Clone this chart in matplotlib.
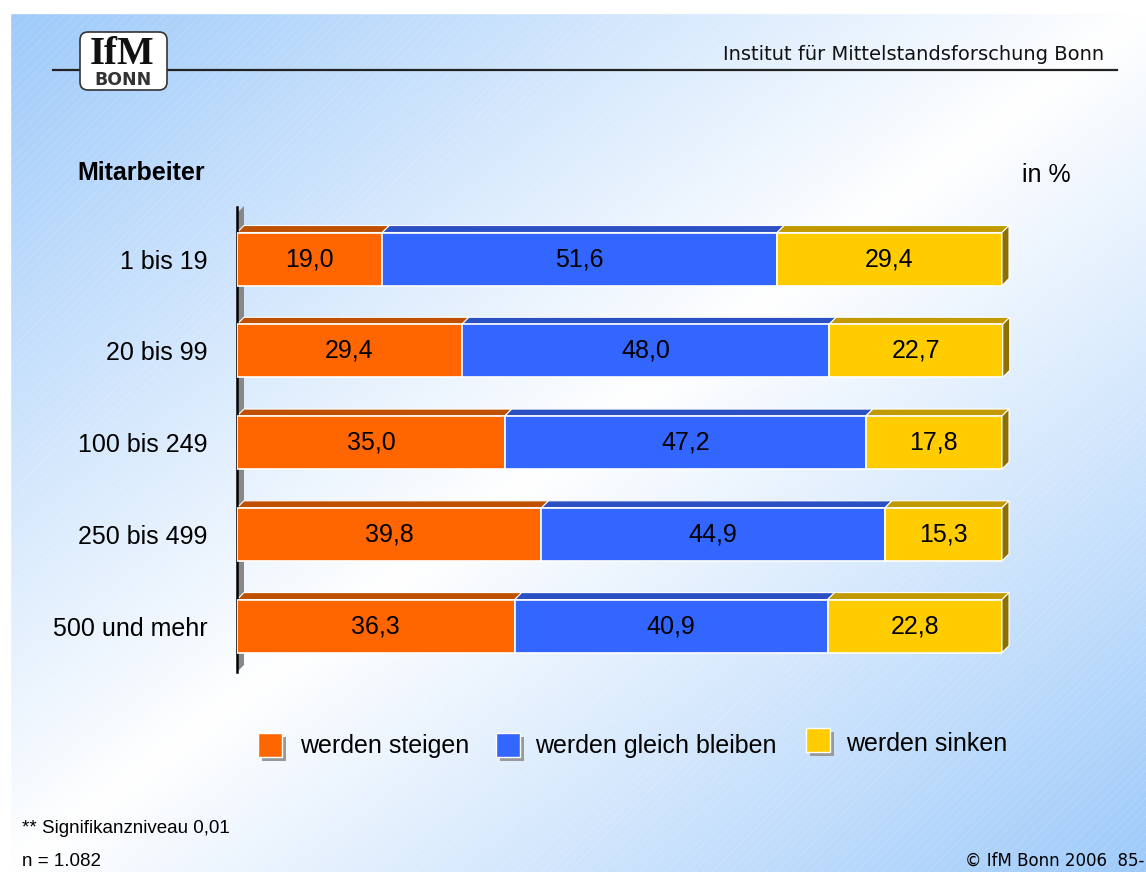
import numpy as np
import matplotlib

matplotlib.use("Agg")  # headless
import matplotlib.pyplot as plt
from matplotlib.patches import Polygon, Rectangle, FancyBboxPatch

categories = ["1 bis 19", "20 bis 99", "100 bis 249", "250 bis 499", "500 und mehr"]
steigen = [19.0, 29.4, 35.0, 39.8, 36.3]
gleich = [51.6, 48.0, 47.2, 44.9, 40.9]
sinken = [29.4, 22.7, 17.8, 15.3, 22.8]
series_names = ["werden steigen", "werden gleich bleiben", "werden sinken"]

W, H = 1146, 872
FRONT = ["#FF6600", "#3366FF", "#FFCC00"]
TOP = ["#BE5000", "#2A50C4", "#C09A00"]
SIDE = "#8C7000"
SANS = "Liberation Sans"
TAHOMA = "DejaVu Sans"

fig = plt.figure(figsize=(W / 100, H / 100), dpi=100)
fig.patch.set_facecolor("white")

# background in pixel coordinates
bg = fig.add_axes([0, 0, 1, 1])
bg.set_xlim(0, W)
bg.set_ylim(H, 0)
bg.axis("off")

u = np.linspace(0, 1, 300)
v = np.linspace(0, 1, 240)
U, V = np.meshgrid(u, v)
t = np.abs(U + V - 1)
blue = np.array([158, 202, 250]) / 255.0
img = 1 - (1 - blue)[None, None, :] * t[:, :, None]
bg.imshow(img, extent=[10, W, H, 13], aspect="auto", zorder=0)
# faint diagonal texture
for k in range(-H, W + H, 9):
    bg.plot([k, k + H], [H, 0], color="white", lw=0.5, alpha=0.18, zorder=1)
bg.add_patch(Rectangle((0, 0), W, 13, color="white", zorder=2))
bg.add_patch(Rectangle((0, 0), 10, H, color="white", zorder=2))

# header with logo
bg.plot([53, 1117], [70, 70], color="#222222", lw=1.6, zorder=3)
bg.add_patch(FancyBboxPatch((80, 32), 87, 58, boxstyle="round,pad=0,rounding_size=8",
                            fc="white", ec="#333333", lw=1.2, zorder=4))
bg.text(122, 64, "IfM", family="Liberation Serif", fontsize=28, fontweight="bold",
        ha="center", va="baseline", color="#111111", zorder=5)
bg.text(123, 85, "BONN", family=TAHOMA, fontsize=12.5, fontweight="bold",
        ha="center", va="baseline", color="#333333", zorder=5)
bg.text(1104, 60, "Institut für Mittelstandsforschung Bonn", family=TAHOMA, fontsize=14,
        ha="right", va="baseline", color="#111111", zorder=5)

bg.text(77, 180, "Mitarbeiter", family=SANS, fontsize=18, fontweight="bold",
        ha="left", va="baseline", zorder=5)
bg.text(1022, 182, "in %", family=SANS, fontsize=18, ha="left", va="baseline", zorder=5)

# gray wall behind the bars
bg.add_patch(Polygon([(237, 213), (244, 206), (244, 665), (237, 672)],
                     closed=True, fc="#888888", ec="none", zorder=3))

# footer
bg.text(22, 833, "** Signifikanzniveau 0,01", family=SANS, fontsize=13.5, va="baseline")
bg.text(22, 866, "n = 1.082", family=SANS, fontsize=13.5, va="baseline")
bg.text(1144, 866, "© IfM Bonn 2006  85-", family=TAHOMA, fontsize=12, ha="right",
        va="baseline")

# legend
leg = [(258, 733, 300, 746), (496, 733, 535, 746), (806, 728, 846, 744)]
for (sx, sy, tx, ty), c, name in zip(leg, FRONT, series_names):
    bg.add_patch(Rectangle((sx + 4, sy + 4), 24, 24, fc="#999999", ec="none", zorder=4))
    bg.add_patch(Rectangle((sx, sy), 24, 24, fc=c, ec="white", lw=1, zorder=5))
    bg.text(tx, ty, name, family=SANS, fontsize=18, va="center", zorder=5)

# bars
ax = fig.add_axes([237 / W, 1 - 672 / H, 765 / W, 465 / H], zorder=2)
ax.patch.set_alpha(0)
ax.set_xlim(0, 100)
ax.set_ylim(4.50, -0.567)
ypos = np.arange(len(categories))
bh = 0.578
dx = 7 * 100 / 765
dy = 7 / 91.75

left = np.zeros(len(categories))
for i, vals in enumerate([steigen, gleich, sinken]):
    vals = np.array(vals)
    ax.barh(ypos, vals, left=left, height=bh, color=FRONT[i], edgecolor="white",
            linewidth=1.2, zorder=3)
    for y, l, w in zip(ypos, left, vals):
        top = y - bh / 2
        ax.add_patch(Polygon([(l, top), (l + w, top), (l + w + dx, top - dy), (l + dx, top - dy)],
                             closed=True, fc=TOP[i], ec="white", lw=0.8, zorder=2, clip_on=False))
        ax.text(l + w / 2, y, f"{w:.1f}".replace(".", ","), ha="center", va="center",
                family=SANS, fontsize=18, zorder=4)
    left = left + vals

for y, r in zip(ypos, left):
    top, bot = y - bh / 2, y + bh / 2
    ax.add_patch(Polygon([(r, top), (r + dx, top - dy), (r + dx, bot - dy), (r, bot)],
                         closed=True, fc=SIDE, ec="white", lw=0.8, zorder=2, clip_on=False))

ax.set_yticks(ypos)
ax.set_yticklabels(categories, family=SANS, fontsize=18)
ax.tick_params(axis="y", length=0, pad=21)
ax.set_xticks([])
for s in ["top", "right", "bottom"]:
    ax.spines[s].set_visible(False)
ax.spines["left"].set_color("black")
ax.spines["left"].set_linewidth(1.8)

fig.savefig("out.png", dpi=100)
plt.close(fig)
